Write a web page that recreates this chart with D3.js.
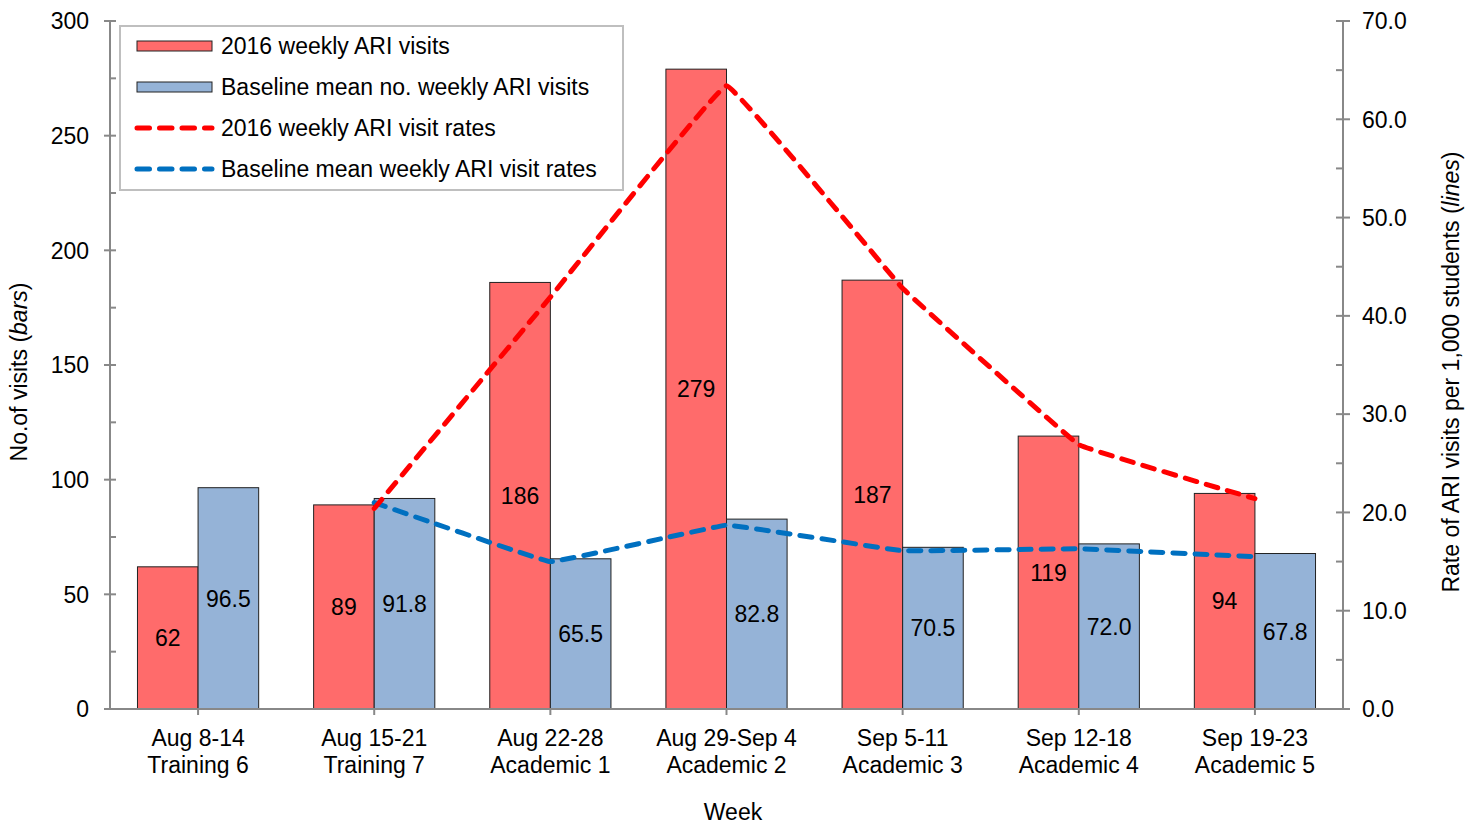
<!DOCTYPE html>
<html><head><meta charset="utf-8">
<script src="https://cdn.jsdelivr.net/npm/d3@7"></script>
<style>
body{margin:0;background:#fff;}
svg text{font-family:"Liberation Sans",Arial,sans-serif;fill:#000;}
</style></head>
<body><svg id="c" width="1479" height="825"></svg>
<script>
const weeks = ["Aug 8-14","Aug 15-21","Aug 22-28","Aug 29-Sep 4","Sep 5-11","Sep 12-18","Sep 19-23"];
const phases = ["Training 6","Training 7","Academic 1","Academic 2","Academic 3","Academic 4","Academic 5"];
const visits2016 = [62, 89, 186, 279, 187, 119, 94];
const visitsBaseline = [96.5, 91.8, 65.5, 82.8, 70.5, 72.0, 67.8];
const rates2016 = [null, 20.4, 41.9, 63.4, 42.8, 26.9, 21.4];
const ratesBaseline = [null, 21.0, 15.0, 18.7, 16.1, 16.3, 15.5];
const leftTicks = [0, 50, 100, 150, 200, 250, 300];
const rightTicks = [0, 10, 20, 30, 40, 50, 60, 70];
const legendLabels = ["2016 weekly ARI visits","Baseline mean no. weekly ARI visits","2016 weekly ARI visit rates","Baseline mean weekly ARI visit rates"];

const svg = d3.select("#c");
const L = 110, R = 1343, T = 21, B = 709;
const x = d3.scaleBand().domain(weeks).range([L, R]).padding(0);
const yL = d3.scaleLinear().domain([0, 300]).range([B, T]);
const yR = d3.scaleLinear().domain([0, 70]).range([B, T]);
const bw = x.bandwidth();
const barW = bw * 0.344;
const red = "#FF6B6B", blue = "#95B3D7", axisC = "#888888";
const fs = 23;

// bars
const g = svg.append("g");
weeks.forEach((w, i) => {
  const cx = x(w) + bw / 2;
  g.append("rect").attr("x", cx - barW).attr("y", yL(visits2016[i])).attr("width", barW)
    .attr("height", yL(0) - yL(visits2016[i])).attr("fill", red).attr("stroke", "#222").attr("stroke-width", 1);
  g.append("rect").attr("x", cx).attr("y", yL(visitsBaseline[i])).attr("width", barW)
    .attr("height", yL(0) - yL(visitsBaseline[i])).attr("fill", blue).attr("stroke", "#222").attr("stroke-width", 1);
  g.append("text").attr("x", cx - barW / 2).attr("y", (yL(visits2016[i]) + yL(0)) / 2).attr("dy", "0.36em")
    .attr("text-anchor", "middle").style("font-size", fs + "px").text(visits2016[i]);
  g.append("text").attr("x", cx + barW / 2).attr("y", (yL(visitsBaseline[i]) + yL(0)) / 2).attr("dy", "0.36em")
    .attr("text-anchor", "middle").style("font-size", fs + "px").text(visitsBaseline[i].toFixed(1));
});

// axes
const axG = svg.append("g");
axG.append("line").attr("x1", L).attr("x2", L).attr("y1", T).attr("y2", B).attr("stroke", axisC).attr("stroke-width", 2);
axG.append("line").attr("x1", R).attr("x2", R).attr("y1", T).attr("y2", B).attr("stroke", axisC).attr("stroke-width", 2);
axG.append("line").attr("x1", L - 6).attr("x2", R + 7).attr("y1", B).attr("y2", B).attr("stroke", axisC).attr("stroke-width", 2);
leftTicks.forEach(v => {
  axG.append("line").attr("x1", L - 6).attr("x2", L + 6).attr("y1", yL(v)).attr("y2", yL(v)).attr("stroke", axisC).attr("stroke-width", 2);
  axG.append("text").attr("x", L - 21).attr("y", yL(v)).attr("dy", "0.36em").attr("text-anchor", "end").style("font-size", fs + "px").text(v);
});
leftTicks.slice(0, -1).forEach(v => {
  const m = v + 25;
  axG.append("line").attr("x1", L).attr("x2", L + 6).attr("y1", yL(m)).attr("y2", yL(m)).attr("stroke", axisC).attr("stroke-width", 2);
});
rightTicks.forEach(v => {
  axG.append("line").attr("x1", R - 7).attr("x2", R + 7).attr("y1", yR(v)).attr("y2", yR(v)).attr("stroke", axisC).attr("stroke-width", 2);
  axG.append("text").attr("x", R + 19).attr("y", yR(v)).attr("dy", "0.36em").attr("text-anchor", "start").style("font-size", fs + "px").text(v.toFixed(1));
});
rightTicks.slice(0, -1).forEach(v => {
  const m = v + 5;
  axG.append("line").attr("x1", R - 7).attr("x2", R).attr("y1", yR(m)).attr("y2", yR(m)).attr("stroke", axisC).attr("stroke-width", 2);
});
weeks.forEach((w, i) => {
  const cx = x(w) + bw / 2;
  axG.append("line").attr("x1", cx).attr("x2", cx).attr("y1", B).attr("y2", B + 6).attr("stroke", axisC).attr("stroke-width", 2);
  axG.append("text").attr("x", cx).attr("y", 746).attr("text-anchor", "middle").style("font-size", fs + "px").text(w);
  axG.append("text").attr("x", cx).attr("y", 773).attr("text-anchor", "middle").style("font-size", fs + "px").text(phases[i]);
});
svg.append("text").attr("x", 733).attr("y", 820).attr("text-anchor", "middle").style("font-size", fs + "px").text("Week");
const lt = svg.append("text").attr("transform", "translate(27,372) rotate(-90)").attr("text-anchor", "middle").style("font-size", fs + "px");
lt.append("tspan").text("No.of visits (");
lt.append("tspan").style("font-style", "italic").text("bars");
lt.append("tspan").text(")");
const rt = svg.append("text").attr("transform", "translate(1459,372) rotate(-90)").attr("text-anchor", "middle").style("font-size", fs + "px");
rt.append("tspan").text("Rate of ARI visits per 1,000 students (");
rt.append("tspan").style("font-style", "italic").text("lines");
rt.append("tspan").text(")");

// lines
const line = d3.line()
  .defined(d => d.v != null)
  .x(d => x(d.w) + bw / 2)
  .y(d => yR(d.v))
  .curve(d3.curveCardinal.tension(0.85));
const dash = "12,10";
svg.append("path").datum(weeks.map((w, i) => ({w, v: ratesBaseline[i]})))
  .attr("d", line).attr("fill", "none").attr("stroke", "#0070C0").attr("stroke-width", 5)
  .attr("stroke-dasharray", dash).attr("stroke-linecap", "round");
svg.append("path").datum(weeks.map((w, i) => ({w, v: rates2016[i]})))
  .attr("d", line).attr("fill", "none").attr("stroke", "#FF0000").attr("stroke-width", 5)
  .attr("stroke-dasharray", dash).attr("stroke-linecap", "round");

// legend
const lg = svg.append("g");
lg.append("rect").attr("x", 120).attr("y", 26).attr("width", 503).attr("height", 164)
  .attr("fill", "#fff").attr("stroke", "#BFBFBF").attr("stroke-width", 2);
const rowY = [46, 87, 128, 169];
lg.append("rect").attr("x", 137).attr("y", rowY[0] - 5).attr("width", 75).attr("height", 10).attr("fill", red).attr("stroke", "#222");
lg.append("rect").attr("x", 137).attr("y", rowY[1] - 5).attr("width", 75).attr("height", 10).attr("fill", blue).attr("stroke", "#222");
lg.append("line").attr("x1", 137).attr("x2", 212).attr("y1", rowY[2]).attr("y2", rowY[2]).attr("stroke", "#FF0000")
  .attr("stroke-width", 5).attr("stroke-dasharray", "12.5,10").attr("stroke-linecap", "round");
lg.append("line").attr("x1", 137).attr("x2", 212).attr("y1", rowY[3]).attr("y2", rowY[3]).attr("stroke", "#0070C0")
  .attr("stroke-width", 5).attr("stroke-dasharray", "12.5,10").attr("stroke-linecap", "round");
legendLabels.forEach((t, i) => {
  lg.append("text").attr("x", 221).attr("y", rowY[i]).attr("dy", "0.36em").style("font-size", fs + "px").text(t);
});
</script></body></html>
